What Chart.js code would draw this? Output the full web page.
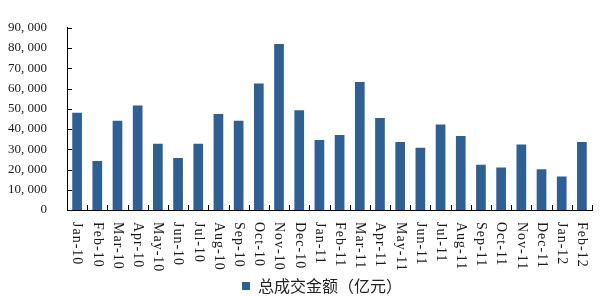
<!DOCTYPE html>
<html>
<head>
<meta charset="utf-8">
<script src="https://cdn.jsdelivr.net/npm/chart.js@4"></script>
<style>
html,body{margin:0;padding:0;background:#fff;}
#wrap{width:606px;height:296px;}
</style>
</head>
<body>
<div id="wrap"><canvas id="c" width="606" height="296"></canvas></div>
<script>
const categories = ['Jan-10','Feb-10','Mar-10','Apr-10','May-10','Jun-10','Jul-10','Aug-10','Sep-10','Oct-10','Nov-10','Dec-10',
  'Jan-11','Feb-11','Mar-11','Apr-11','May-11','Jun-11','Jul-11','Aug-11','Sep-11','Oct-11','Nov-11','Dec-11',
  'Jan-12','Feb-12'];
const turnover = [48000, 24200, 44100, 51600, 32700, 25700, 32700, 47400, 44100, 62500, 82000, 49300,
  34600, 37100, 63200, 45500, 33600, 30800, 42200, 36600, 22300, 21000, 32400, 20100,
  16600, 33600];
const seriesName = '总成交金额（亿元）';
const yMax = 90000;
const yStep = 10000;

const BAR = '#2e6096';

const innerTicks = {
  id: 'innerTicks',
  afterDraw(chart) {
    const ctx = chart.ctx;
    const xs = chart.scales.x, ys = chart.scales.y;
    const area = chart.chartArea;
    ctx.save();
    ctx.strokeStyle = '#000';
    ctx.lineWidth = 1;
    ctx.beginPath();
    ys.ticks.forEach(t => {
      const y = Math.round(ys.getPixelForValue(t.value)) + 0.5;
      ctx.moveTo(area.left, y);
      ctx.lineTo(area.left + 5, y);
    });
    for (let i = 0; i <= categories.length; i++) {
      const x = Math.round(xs.getPixelForValue(i - 0.5)) + 0.5;
      ctx.moveTo(x, area.bottom);
      ctx.lineTo(x, area.bottom - 5);
    }
    ctx.stroke();
    // x labels, rotated clockwise
    ctx.fillStyle = '#1a1a1a';
    ctx.font = '14px "Liberation Serif"';
    if ('letterSpacing' in ctx) ctx.letterSpacing = '1px';
    ctx.textAlign = 'left';
    ctx.textBaseline = 'middle';
    categories.forEach((lab, i) => {
      const x = xs.getPixelForValue(i);
      ctx.save();
      ctx.translate(x, xs.top + 12);
      ctx.rotate(Math.PI / 2);
      ctx.fillText(lab, 0, 0);
      ctx.restore();
    });
    ctx.restore();
  }
};

const shiftLegend = {
  id: 'shiftLegend',
  afterLayout(chart) {
    const lg = chart.legend;
    const pad = lg.options.labels.padding;
    lg.left = chart.chartArea.left - pad - 6;
    lg.right = chart.chartArea.right - 6;
  }
};

new Chart(document.getElementById('c'), {
  type: 'bar',
  data: {
    labels: categories,
    datasets: [{
      label: seriesName,
      data: turnover,
      backgroundColor: BAR,
      borderWidth: 0,
      categoryPercentage: 1,
      barPercentage: 0.48
    }]
  },
  options: {
    responsive: false,
    animation: false,
    layout: { padding: { top: 12, right: 14, left: 0, bottom: -8 } },
    plugins: {
      tooltip: { enabled: false },
      legend: {
        position: 'bottom',
        labels: {
          boxWidth: 8,
          boxHeight: 8,
          padding: 3,
          color: '#222',
          font: { size: 16, family: '"Noto Sans CJK SC"' }
        }
      }
    },
    scales: {
      x: {
        offset: true,
        grid: { display: false, offset: true },
        border: { display: true, color: '#000', width: 1 },
        ticks: { display: false },
        afterFit(s) { s.height = 65; }
      },
      y: {
        min: 0,
        max: yMax,
        grid: { display: false, drawTicks: false },
        border: { display: true, color: '#000', width: 1 },
        ticks: {
          stepSize: yStep,
          padding: 20,
          color: '#1a1a1a',
          font: { size: 13, family: '"Liberation Serif"' },
          callback: v => v === 0 ? '0' : v.toLocaleString('en-US').replace(/,/g, ', ')
        },
        afterFit(s) { s.width = 67; }
      }
    }
  },
  plugins: [innerTicks, shiftLegend]
});
</script>
</body>
</html>
